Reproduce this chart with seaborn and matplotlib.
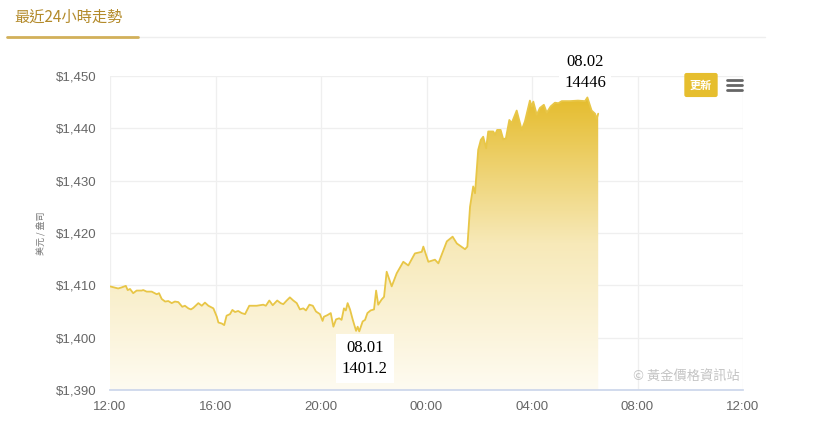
import matplotlib
matplotlib.use("Agg")
import matplotlib.pyplot as plt
from matplotlib.colors import LinearSegmentedColormap
from matplotlib.patches import PathPatch
from matplotlib.lines import Line2D
import seaborn as sns
import numpy as np
import pandas as pd

# Données (heures depuis 12:00, prix en $)
hours = [0.00, 0.31, 0.44, 0.60, 0.67, 0.76, 0.88, 1.01, 1.20, 1.26, 1.39, 1.58,
         1.77, 1.86, 1.96, 2.09, 2.21, 2.34, 2.46, 2.59, 2.74, 2.84, 2.97, 3.07,
         3.16, 3.35, 3.48, 3.60, 3.73, 3.92, 4.05, 4.11, 4.24, 4.33, 4.42, 4.55,
         4.64, 4.74, 4.86, 4.99, 5.12, 5.28, 5.47, 5.56, 5.81, 5.91, 6.04, 6.17,
         6.34, 6.47, 6.57, 6.70, 6.82, 6.95, 7.08, 7.20, 7.33, 7.43, 7.56, 7.69,
         7.81, 7.96, 8.06, 8.11, 8.24, 8.37, 8.47, 8.57, 8.69, 8.78, 8.87, 8.94,
         9.01, 9.10, 9.20, 9.33, 9.39, 9.45, 9.58, 9.67, 9.76, 9.88, 10.01, 10.09,
         10.17, 10.30, 10.39, 10.49, 10.68, 10.87, 11.12, 11.31, 11.56, 11.82, 11.88,
         12.07, 12.32, 12.45, 12.77, 12.99, 13.15, 13.46, 13.55, 13.65, 13.77, 13.84,
         13.93, 13.96, 14.06, 14.15, 14.26, 14.34, 14.53, 14.60, 14.68, 14.81, 14.91,
         15.01, 15.14, 15.23, 15.42, 15.61, 15.73, 15.92, 15.99, 16.05, 16.18, 16.30,
         16.45, 16.56, 16.71, 16.87, 17.00, 17.13, 17.44, 17.74, 18.01, 18.10, 18.26,
         18.39, 18.45, 18.51]
prices = [1409.8, 1409.4, 1409.6, 1409.9, 1409.1, 1409.3, 1408.5, 1409.0, 1409.0, 1409.1,
          1408.8, 1408.8, 1408.3, 1408.5, 1407.4, 1406.9, 1407.0, 1406.6, 1406.9, 1406.8,
          1405.9, 1406.1, 1405.6, 1405.4, 1405.7, 1406.6, 1406.1, 1406.7, 1406.1, 1405.6,
          1404.0, 1402.9, 1402.7, 1402.4, 1404.2, 1404.5, 1405.3, 1404.9, 1405.1, 1404.7,
          1404.5, 1406.1, 1406.1, 1406.1, 1406.3, 1406.1, 1407.1, 1406.2, 1407.1, 1406.6,
          1406.4, 1407.1, 1407.7, 1407.1, 1406.6, 1405.4, 1405.6, 1405.2, 1406.3, 1406.1,
          1405.0, 1404.5, 1403.2, 1404.0, 1404.3, 1404.7, 1402.1, 1403.5, 1403.7, 1403.4,
          1405.6, 1405.2, 1406.6, 1405.4, 1403.5, 1401.3, 1402.1, 1401.2, 1403.1, 1403.4,
          1404.7, 1405.2, 1405.4, 1409.0, 1406.3, 1407.3, 1407.8, 1412.6, 1409.8, 1412.3,
          1414.5, 1413.8, 1416.1, 1416.4, 1417.4, 1414.5, 1414.9, 1414.2, 1418.4, 1419.3,
          1418.0, 1416.9, 1417.4, 1425.0, 1428.9, 1427.6, 1433.7, 1435.9, 1437.8, 1438.4,
          1436.2, 1439.4, 1439.4, 1438.8, 1439.7, 1439.7, 1437.9, 1438.1, 1441.6, 1441.0,
          1443.4, 1439.7, 1441.3, 1445.3, 1444.2, 1445.1, 1442.6, 1443.9, 1444.5, 1443.0,
          1444.2, 1444.9, 1444.8, 1445.2, 1445.2, 1445.3, 1445.2, 1445.9, 1443.4, 1442.8,
          1441.8, 1442.8]

xtick_pos = [0, 4, 8, 12, 16, 20, 24]
xtick_labels = ["12:00", "16:00", "20:00", "00:00", "04:00", "08:00", "12:00"]
ytick_vals = [1390, 1400, 1410, 1420, 1430, 1440, 1450]

max_label = "08.02\n14446"
min_label = "08.01\n1401.2"

df = pd.DataFrame({"heure": hours, "prix": prices})

sns.set_theme(style="white")
plt.rcParams['font.family'] = ['Liberation Sans', 'Noto Sans CJK TC']

fig = plt.figure(figsize=(8.35, 4.3), dpi=100)
ax = fig.add_axes([110 / 835, 1 - 390 / 430, 633 / 835, 314 / 430])

# Remplissage en dégradé
poly = ax.fill_between(df["heure"], df["prix"], 1390, color="none", lw=0)
patch = PathPatch(poly.get_paths()[0], transform=ax.transData,
                  facecolor="none", edgecolor="none")
ax.add_patch(patch)
cmap = LinearSegmentedColormap.from_list("or", ["#fefbf1", "#f7e9b8", "#e5bc2c"])
grad = np.linspace(1, 0, 256).reshape(-1, 1)
im = ax.imshow(grad, extent=[0, df["heure"].max(), 1390, 1446], aspect="auto",
               cmap=cmap, origin="upper", zorder=2)
im.set_clip_path(patch)

sns.lineplot(data=df, x="heure", y="prix", ax=ax, color="#e8c647", lw=1.3, zorder=3)

ax.set_xlim(0, 24)
ax.set_ylim(1390, 1450)
ax.set_xticks(xtick_pos)
ax.set_xticklabels(xtick_labels)
ax.set_yticks(ytick_vals)
ax.set_yticklabels(["${:,}".format(v) for v in ytick_vals])
ax.tick_params(axis="both", labelsize=9.5, labelcolor="#666666")
ax.tick_params(axis="x", length=5, color="#ccd6eb", pad=3)
ax.tick_params(axis="y", length=0, pad=9.5)
ax.grid(True, color="#efefef", lw=0.9, zorder=0)
ax.set_xlabel("")
ax.set_ylabel("")
for s in ["top", "right", "left"]:
    ax.spines[s].set_visible(False)
ax.spines["bottom"].set_color("#ccd6eb")

# Etiquettes max / min
imax = int(np.argmax(prices))
imin = int(np.argmin(prices))
ax.annotate(max_label, xy=(hours[imax], prices[imax]), xytext=(-1.5, 18),
            textcoords="offset points", ha="center", va="center", fontsize=12,
            family="Liberation Serif", color="black", linespacing=1.45,
            bbox=dict(boxstyle="square,pad=0.3", fc="white", ec="none"), zorder=5)
ax.annotate(min_label, xy=(hours[imin], prices[imin]), xytext=(4, -19.5),
            textcoords="offset points", ha="center", va="center", fontsize=12,
            family="Liberation Serif", color="black", linespacing=1.45,
            bbox=dict(boxstyle="square,pad=0.35", fc="white", ec="none"), zorder=5)

# Filigrane
ax.text(0.995, 0.045, "© 黃金價格資訊站", transform=ax.transAxes, ha="right",
        va="center", fontsize=9.5, color="#c4c4c4",
        family=["Noto Sans CJK TC", "DejaVu Sans"])

# Titre de l'onglet
fig.text(14 / 835, 1 - 17 / 430, "最近24小時走勢", fontsize=11, color="#b38a2a",
         va="center", family=["Noto Sans CJK TC", "DejaVu Sans"])
fig.add_artist(Line2D([7 / 835, 765 / 835], [1 - 37 / 430] * 2, color="#eeeeee", lw=1))
fig.add_artist(Line2D([7 / 835, 138 / 835], [1 - 37 / 430] * 2, color="#d2b05a", lw=2))

# Axe y : unité
fig.text(41 / 835, 1 - 233 / 430, "美元 / 盎司", rotation=90, fontsize=6.5,
         color="#777777", ha="center", va="center",
         family=["Noto Sans CJK TC", "DejaVu Sans"])

# Boutons
fig.text(701 / 835, 1 - 85 / 430, "更新", fontsize=8, color="white", ha="center",
         va="center", weight="bold", family=["Noto Sans CJK TC", "DejaVu Sans"],
         bbox=dict(boxstyle="round,pad=0.5,rounding_size=0.2", fc="#e6be2e", ec="none"))
for yy in [80, 85, 90]:
    fig.add_artist(Line2D([727 / 835, 742 / 835], [1 - yy / 430] * 2,
                          color="#666666", lw=2))

plt.savefig("out.png", dpi=100)
